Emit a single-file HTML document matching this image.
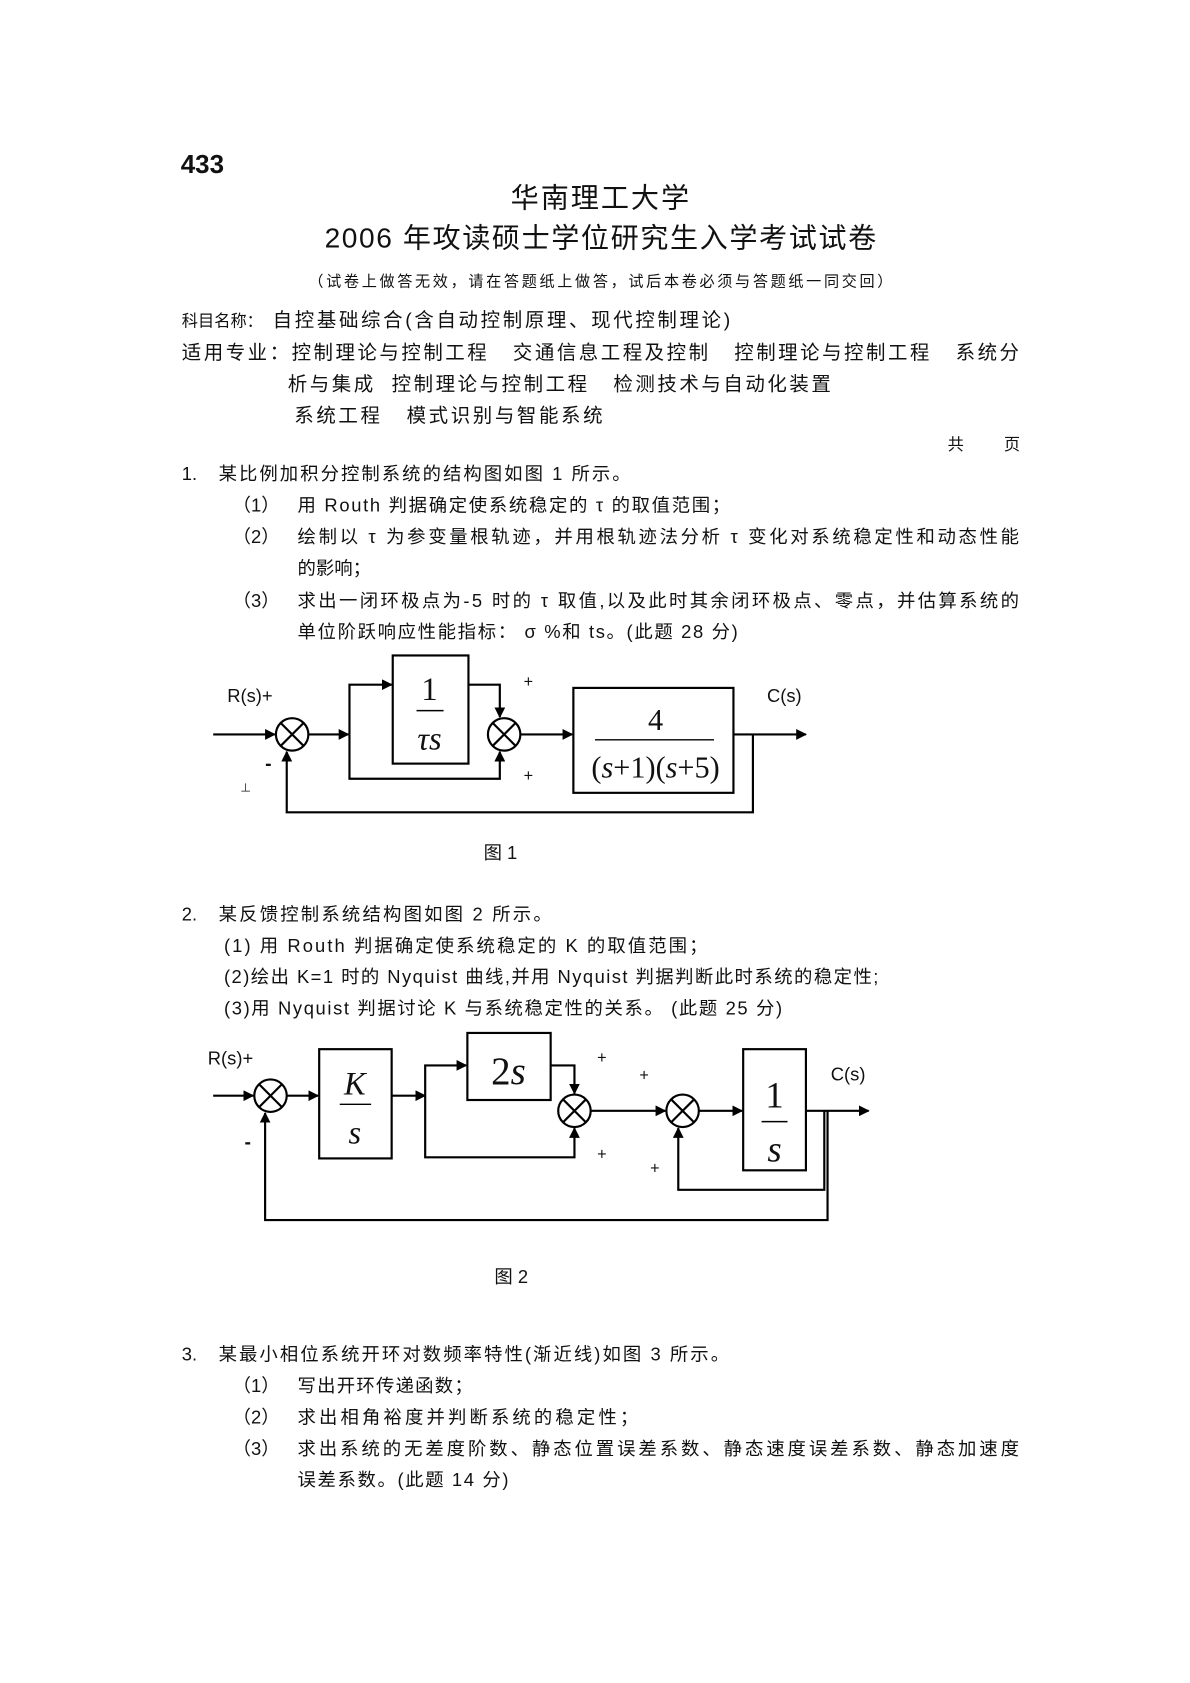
<!DOCTYPE html>
<html><head><meta charset="utf-8"><style>
html,body{margin:0;padding:0;background:#fff;}
svg{display:block}
text{font-family:"Liberation Sans","Noto Sans CJK SC",sans-serif;fill:#111;}
.m{font-family:"Liberation Serif","Noto Serif CJK SC",serif;}
</style></head><body>
<svg width="1190" height="1683" viewBox="0 0 1100 1556" xmlns="http://www.w3.org/2000/svg">
<defs><marker id="a" markerWidth="10" markerHeight="10" refX="9" refY="5" orient="auto" markerUnits="userSpaceOnUse"><path d="M0,0 L10,5 L0,10 z" fill="#000"/></marker></defs>
<rect width="1100" height="1556" fill="#fff"/>
<text x="167" y="160" font-size="24" font-weight="bold">433</text>
<text x="472" y="192" font-size="26" textLength="165" lengthAdjust="spacing">华南理工大学</text>
<text x="300" y="229" font-size="26" textLength="510" lengthAdjust="spacing">2006 年攻读硕士学位研究生入学考试试卷</text>
<text x="285" y="265" font-size="14" textLength="540" lengthAdjust="spacing">（试卷上做答无效，请在答题纸上做答，试后本卷必须与答题纸一同交回）</text>
<text x="168" y="302" font-size="15">科目名称：</text>
<text x="252" y="302" font-size="18" textLength="423" lengthAdjust="spacing">自控基础综合(含自动控制原理、现代控制理论)</text>
<text x="168" y="332" font-size="18" xml:space="preserve" textLength="774" lengthAdjust="spacing">适用专业：控制理论与控制工程   交通信息工程及控制   控制理论与控制工程   系统分</text>
<text x="266" y="361" font-size="18" xml:space="preserve" textLength="502" lengthAdjust="spacing">析与集成  控制理论与控制工程   检测技术与自动化装置</text>
<text x="272" y="390" font-size="18" xml:space="preserve" textLength="285" lengthAdjust="spacing">系统工程   模式识别与智能系统</text>
<text x="876" y="416" font-size="15">共</text><text x="928" y="416" font-size="15">页</text>

<g font-size="17">
<text x="168" y="444">1.</text><text x="202" y="444" textLength="381" lengthAdjust="spacing">某比例加积分控制系统的结构图如图 1 所示。</text>
<text x="215" y="473">（1）</text><text x="275" y="473" textLength="400" lengthAdjust="spacing">用 Routh 判据确定使系统稳定的 τ 的取值范围；</text>
<text x="215" y="502">（2）</text><text x="275" y="502" textLength="667" lengthAdjust="spacing">绘制以 τ 为参变量根轨迹，并用根轨迹法分析 τ 变化对系统稳定性和动态性能</text>
<text x="275" y="531">的影响；</text>
<text x="215" y="561">（3）</text><text x="275" y="561" textLength="667" lengthAdjust="spacing">求出一闭环极点为-5 时的 τ 取值,以及此时其余闭环极点、零点，并估算系统的</text>
<text x="275" y="590" textLength="407" lengthAdjust="spacing">单位阶跃响应性能指标： σ %和 ts。(此题 28 分)</text>
</g>

<g stroke="#000" stroke-width="2" fill="none">
<circle cx="270" cy="679" r="15"/><path d="M259,668 L281,690 M281,668 L259,690"/>
<circle cx="466" cy="679" r="15"/><path d="M455,668 L477,690 M477,668 L455,690"/>
<rect x="363" y="606" width="70" height="100"/>
<rect x="530" y="636" width="148" height="97"/>
<path d="M197,679 H254" marker-end="url(#a)"/>
<path d="M285,679 H322" marker-end="url(#a)"/>
<path d="M323,679 V633 H362" marker-end="url(#a)"/>
<path d="M323,679 V720 H462 V695" marker-end="url(#a)"/>
<path d="M433,633 H462 V663" marker-end="url(#a)"/>
<path d="M481,679 H529" marker-end="url(#a)"/>
<path d="M678,679 H745" marker-end="url(#a)"/>
<path d="M696,679 V751 H265 V695" marker-end="url(#a)"/>
<path d="M385,657 H410 M550,684 H660" stroke-width="1.3"/>
</g>
<text x="210" y="649" font-size="17">R(s)+</text>
<text x="709" y="649" font-size="17">C(s)</text>
<text x="484" y="635" font-size="15">+</text>
<text x="484" y="722" font-size="15">+</text>
<text x="245" y="712" font-size="18" font-weight="bold">-</text>
<text x="222" y="732" font-size="10">⊥</text>
<text class="m" x="397" y="647" font-size="30" text-anchor="middle">1</text>
<text class="m" x="397" y="693" font-size="30" text-anchor="middle" font-style="italic">τs</text>
<text class="m" x="606" y="675" font-size="28" text-anchor="middle">4</text>
<text class="m" x="606" y="719" font-size="28" text-anchor="middle">(<tspan font-style="italic">s</tspan>+1)(<tspan font-style="italic">s</tspan>+5)</text>
<text x="447" y="794" font-size="17">图  1</text>

<g font-size="17">
<text x="168" y="851">2.</text><text x="202" y="851" textLength="308" lengthAdjust="spacing">某反馈控制系统结构图如图 2 所示。</text>
<text x="207" y="880" textLength="447" lengthAdjust="spacing">(1)  用 Routh 判据确定使系统稳定的 K 的取值范围；</text>
<text x="207" y="909" textLength="605" lengthAdjust="spacing">(2)绘出 K=1 时的 Nyquist 曲线,并用 Nyquist 判据判断此时系统的稳定性;</text>
<text x="207" y="938" textLength="516" lengthAdjust="spacing">(3)用 Nyquist 判据讨论 K 与系统稳定性的关系。 (此题 25 分)</text>
</g>

<g stroke="#000" stroke-width="2" fill="none">
<circle cx="250" cy="1013" r="15"/><path d="M239,1002 L261,1024 M261,1002 L239,1024"/>
<circle cx="531" cy="1027" r="15"/><path d="M520,1016 L542,1038 M542,1016 L520,1038"/>
<circle cx="631" cy="1027" r="15"/><path d="M620,1016 L642,1038 M642,1016 L620,1038"/>
<rect x="295" y="970" width="67" height="101"/>
<rect x="432" y="955" width="77" height="62"/>
<rect x="687" y="970" width="58" height="112"/>
<path d="M197,1013 H234" marker-end="url(#a)"/>
<path d="M265,1013 H294" marker-end="url(#a)"/>
<path d="M362,1013 H393" marker-end="url(#a)"/>
<path d="M393,1013 V985 H431" marker-end="url(#a)"/>
<path d="M393,1013 V1070 H531 V1043" marker-end="url(#a)"/>
<path d="M509,985 H531 V1011" marker-end="url(#a)"/>
<path d="M546,1027 H615" marker-end="url(#a)"/>
<path d="M646,1027 H686" marker-end="url(#a)"/>
<path d="M745,1027 H803" marker-end="url(#a)"/>
<path d="M762,1027 V1100 H627 V1043" marker-end="url(#a)"/>
<path d="M765,1027 V1128 H245 V1029" marker-end="url(#a)"/>
<path d="M314,1021 H343 M704,1037 H728" stroke-width="1.3"/>
</g>
<text x="192" y="984" font-size="17">R(s)+</text>
<text x="768" y="999" font-size="17">C(s)</text>
<text x="552" y="983" font-size="15">+</text>
<text x="552" y="1072" font-size="15">+</text>
<text x="591" y="999" font-size="15">+</text>
<text x="601" y="1085" font-size="15">+</text>
<text x="226" y="1062" font-size="18" font-weight="bold">-</text>
<text class="m" x="328" y="1012" font-size="30" text-anchor="middle" font-style="italic">K</text>
<text class="m" x="328" y="1057" font-size="30" text-anchor="middle" font-style="italic">s</text>
<text class="m" x="470" y="1002" font-size="36" text-anchor="middle">2<tspan font-style="italic">s</tspan></text>
<text class="m" x="716" y="1024" font-size="34" text-anchor="middle">1</text>
<text class="m" x="716" y="1074" font-size="34" text-anchor="middle" font-style="italic">s</text>
<text x="457" y="1186" font-size="17">图  2</text>

<g font-size="17">
<text x="168" y="1258">3.</text><text x="202" y="1258" textLength="472" lengthAdjust="spacing">某最小相位系统开环对数频率特性(渐近线)如图 3 所示。</text>
<text x="215" y="1287">（1）</text><text x="275" y="1287" textLength="162" lengthAdjust="spacing">写出开环传递函数；</text>
<text x="215" y="1316">（2）</text><text x="275" y="1316" textLength="315" lengthAdjust="spacing">求出相角裕度并判断系统的稳定性；</text>
<text x="215" y="1345">（3）</text><text x="275" y="1345" textLength="667" lengthAdjust="spacing">求出系统的无差度阶数、静态位置误差系数、静态速度误差系数、静态加速度</text>
<text x="275" y="1374" textLength="195" lengthAdjust="spacing">误差系数。(此题 14 分)</text>
</g>
</svg>
</body></html>
